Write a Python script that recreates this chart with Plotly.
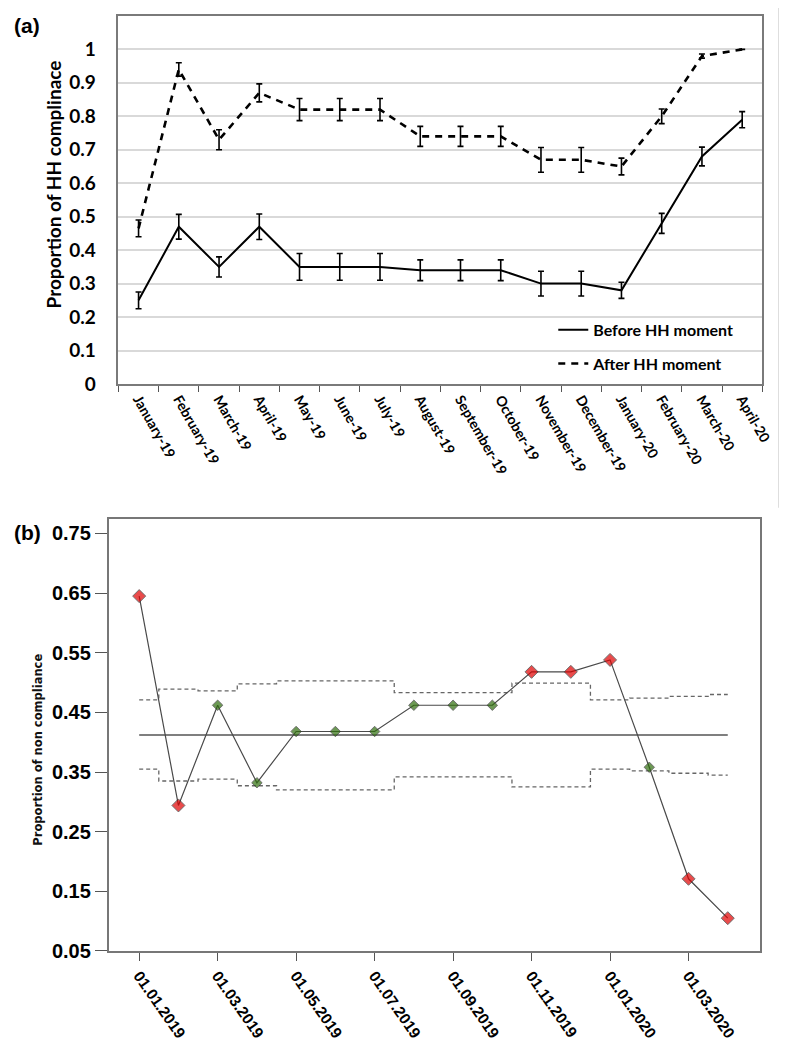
import plotly.graph_objects as go

# ---------------- Panel (a) data ----------------
months_a = ["January-19", "February-19", "March-19", "April-19", "May-19", "June-19",
            "July-19", "August-19", "September-19", "October-19", "November-19",
            "December-19", "January-20", "February-20", "March-20", "April-20"]
before_hh = [0.25, 0.47, 0.35, 0.47, 0.35, 0.35, 0.35, 0.34, 0.34, 0.34, 0.30, 0.30, 0.28, 0.48, 0.68, 0.79]
before_err = [0.025, 0.037, 0.03, 0.038, 0.04, 0.04, 0.04, 0.031, 0.031, 0.031, 0.037, 0.037, 0.024, 0.03, 0.028, 0.024]
after_hh = [0.465, 0.94, 0.73, 0.87, 0.82, 0.82, 0.82, 0.74, 0.74, 0.74, 0.67, 0.67, 0.65, 0.80, 0.98, 1.0]
after_err = [0.025, 0.02, 0.03, 0.027, 0.033, 0.033, 0.033, 0.03, 0.03, 0.03, 0.037, 0.037, 0.025, 0.022, 0.006, 0.0]
yticks_a = [0, 0.1, 0.2, 0.3, 0.4, 0.5, 0.6, 0.7, 0.8, 0.9, 1]
yticktext_a = ["0", "0.1", "0.2", "0.3", "0.4", "0.5", "0.6", "0.7", "0.8", "0.9", "1"]

# ---------------- Panel (b) data ----------------
month_index_b = list(range(16))
non_compliance = [0.645, 0.294, 0.462, 0.332, 0.418, 0.418, 0.418, 0.462, 0.462, 0.462,
                  0.518, 0.518, 0.538, 0.358, 0.171, 0.105]
signal = [True, True, False, False, False, False, False, False, False, False,
          True, True, True, False, True, True]
ucl = [0.471, 0.489, 0.486, 0.498, 0.503, 0.503, 0.503, 0.483, 0.483, 0.483,
       0.499, 0.499, 0.471, 0.474, 0.477, 0.48]
lcl = [0.355, 0.335, 0.338, 0.327, 0.32, 0.32, 0.32, 0.342, 0.342, 0.342,
       0.325, 0.325, 0.355, 0.352, 0.348, 0.345]
center_line = 0.412
xtick_idx_b = [0, 2, 4, 6, 8, 10, 12, 14]
xtick_text_b = ["01.01.2019", "01.03.2019", "01.05.2019", "01.07.2019", "01.09.2019",
                "01.11.2019", "01.01.2020", "01.03.2020"]
yticks_b = [0.05, 0.15, 0.25, 0.35, 0.45, 0.55, 0.65, 0.75]

W, H = 787, 1045

def px_x(p):
    return p / W

def px_y(p):
    return 1 - p / H

fig = go.Figure()

FA = "Lato, 'Open Sans', sans-serif"
FB = "'Liberation Sans Narrow', 'Arial Narrow', 'Liberation Sans', sans-serif"

fig.add_trace(go.Scatter(
    x=months_a, y=before_hh, mode="lines", name="Before HH moment",
    line=dict(color="black", width=2),
    error_y=dict(type="data", array=before_err, color="black", thickness=1.6, width=3),
    xaxis="x", yaxis="y", legendgroup="a", showlegend=True))
fig.add_trace(go.Scatter(
    x=months_a, y=after_hh, mode="lines", name="After HH moment",
    line=dict(color="black", width=2.6, dash="7px,6px"),
    error_y=dict(type="data", array=after_err, color="black", thickness=1.6, width=3),
    xaxis="x", yaxis="y", legendgroup="b", showlegend=True))

# panel (b)
fig.add_trace(go.Scatter(
    x=month_index_b, y=ucl, mode="lines", line=dict(color="#666", width=1.3, dash="4px,3px", shape="hvh"),
    xaxis="x2", yaxis="y2", showlegend=False, hoverinfo="skip"))
fig.add_trace(go.Scatter(
    x=month_index_b, y=lcl, mode="lines", line=dict(color="#666", width=1.3, dash="4px,3px", shape="hvh"),
    xaxis="x2", yaxis="y2", showlegend=False, hoverinfo="skip"))
fig.add_trace(go.Scatter(
    x=[month_index_b[0], month_index_b[-1]], y=[center_line, center_line], mode="lines",
    line=dict(color="#555", width=1.6), xaxis="x2", yaxis="y2", showlegend=False))
fig.add_trace(go.Scatter(
    x=month_index_b, y=non_compliance, mode="lines+markers",
    line=dict(color="#4a4a4a", width=1.2),
    marker=dict(symbol="diamond",
                size=[10 if s else 8 for s in signal],
                color=["#e00000" if s else "#2f6e0c" for s in signal],
                line=dict(color="#333", width=1)),
    xaxis="x2", yaxis="y2", showlegend=False))

fig.update_layout(
    width=W, height=H, margin=dict(l=0, r=0, t=0, b=0),
    paper_bgcolor="white", plot_bgcolor="white",
    showlegend=True,
    legend=dict(x=px_x(553), y=px_y(308), xanchor="left", yanchor="top",
                bgcolor="rgba(0,0,0,0)", font=dict(family=FA, size=16, color="black", weight="bold"),
                traceorder="grouped", tracegroupgap=10, itemwidth=30),
    xaxis=dict(domain=[px_x(112), px_x(765)], anchor="y", type="category",
               categoryorder="array", categoryarray=months_a, range=[-0.5, 15.5],
               showline=True, linecolor="#7a7a7a", linewidth=1.5, mirror=True,
               ticks="outside", tickson="boundaries", ticklen=6, tickcolor="#555",
               tickangle=60, showgrid=False,
               tickfont=dict(family=FA, size=14, color="black", weight="bold")),
    yaxis=dict(domain=[px_y(380), px_y(8)], anchor="x", range=[0, 1.1],
               tickvals=yticks_a, ticktext=yticktext_a,
               showline=True, linecolor="#7a7a7a", linewidth=1.5, mirror=True,
               showgrid=True, gridcolor="#d9d9d9", gridwidth=1.5, zeroline=False,
               ticks="", ticklabelstandoff=17,
               tickfont=dict(family=FA, size=19, color="black", weight="bold")),
    xaxis2=dict(domain=[px_x(102), px_x(763)], anchor="y2", range=[-0.78, 15.83],
                tickvals=xtick_idx_b, ticktext=xtick_text_b,
                showline=True, linecolor="#777", linewidth=1.5, mirror=True,
                ticks="outside", ticklen=8, tickcolor="#555", tickangle=55, showgrid=False,
                zeroline=False,
                tickfont=dict(family=FB, size=15.5, color="black", weight="bold")),
    yaxis2=dict(domain=[px_y(953), px_y(516)], anchor="x2", range=[0.05, 0.775],
                tickvals=yticks_b, ticktext=["%.2f" % v for v in yticks_b],
                showline=True, linecolor="#777", linewidth=1.5, mirror=True,
                ticks="outside", ticklen=12, tickcolor="#555", showgrid=False, zeroline=False,
                tickfont=dict(family=FB, size=20, color="black", weight="bold")),
    annotations=[
        dict(text="(a)", x=px_x(4), y=px_y(18), xref="paper", yref="paper", xanchor="left",
             yanchor="middle", showarrow=False,
             font=dict(family="Liberation Sans, Arial", size=21, color="black", weight="bold")),
        dict(text="(b)", x=px_x(4), y=px_y(530), xref="paper", yref="paper", xanchor="left",
             yanchor="middle", showarrow=False,
             font=dict(family="Liberation Sans, Arial", size=21, color="black", weight="bold")),
        dict(text="Proportion of HH complinace", x=px_x(46), y=px_y(178), xref="paper", yref="paper",
             textangle=-90, showarrow=False, xanchor="center", yanchor="middle",
             font=dict(family=FA, size=19, color="black", weight="bold")),
        dict(text="Proportion of non compliance", x=px_x(31), y=px_y(750), xref="paper", yref="paper",
             textangle=-90, showarrow=False, xanchor="center", yanchor="middle",
             font=dict(family="DejaVu Sans", size=11.5, color="#111", weight="bold")),
    ],
    shapes=[dict(type="line", xref="paper", yref="paper", x0=px_x(782), x1=px_x(782),
                 y0=px_y(0), y1=px_y(505), line=dict(color="#cfcfcf", width=1.5))],
)

fig.write_html("out.html")
